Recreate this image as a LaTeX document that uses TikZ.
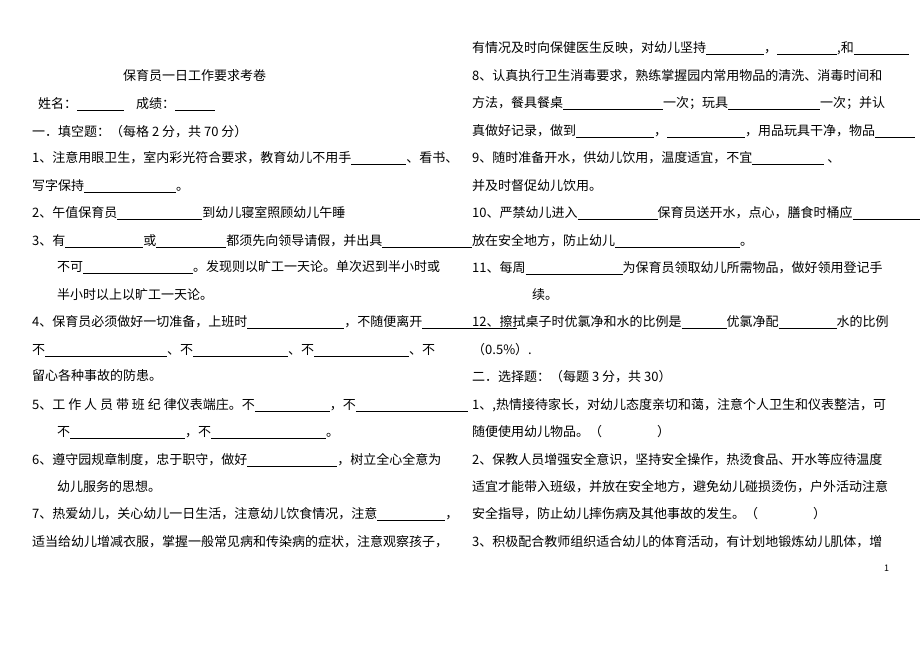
\documentclass[tikz,border=0pt]{standalone}
\usepackage{fontspec}
\setmainfont{Noto Sans CJK SC}
\newcommand{\blank}[1]{\rule[-2.5pt]{#1pt}{0.6pt}}
\tikzset{line/.style={anchor=base west, inner sep=0pt, font=\fontsize{13}{13}\selectfont}}

\begin{document}
\begin{tikzpicture}[x=1pt, y=-1pt]
    \useasboundingbox (0,0) rectangle (920,651);
    % left column
    \node[line] (title) at (123,80) {保育员一日工作要求考卷};
    \node[line] (name) at (38,108) {姓名：\blank{47}\hspace{12pt}成绩：\blank{40}};
    \node[line] (sec1) at (32,136) {一．填空题：（每格 2 分，共 70 分）};
    \node[line] (q1a) at (32,162) {1、注意用眼卫生，室内彩光符合要求，教育幼儿不用手\blank{55}、看书、};
    \node[line] (q1b) at (32,190) {写字保持\blank{92}。};
    \node[line] (q2) at (32,217) {2、午值保育员\blank{85}到幼儿寝室照顾幼儿午睡};
    \node[line] (q3a) at (32,245) {3、有\blank{78}或\blank{70}都须先向领导请假，并出具\blank{90}};
    \node[line] (q3b) at (57,271) {不可\blank{110}。发现则以旷工一天论。单次迟到半小时或};
    \node[line] (q3c) at (57,299) {半小时以上以旷工一天论。};
    \node[line] (q4a) at (32,326) {4、保育员必须做好一切准备，上班时\blank{97}，不随便离开\blank{95}};
    \node[line] (q4b) at (32,354) {不\blank{122}、不\blank{95}、不\blank{95}、不};
    \node[line] (q4c) at (32,380) {留心各种事故的防患。};
    \node[line] (q5a) at (32,409) {5、工 作 人 员 带 班 纪 律仪表端庄。不\blank{75}，不\blank{112}};
    \node[line] (q5b) at (57,436) {不\blank{115}，不\blank{115}。};
    \node[line] (q6a) at (32,464) {6、遵守园规章制度，忠于职守，做好\blank{90}，树立全心全意为};
    \node[line] (q6b) at (57,491) {幼儿服务的思想。};
    \node[line] (q7a) at (32,518) {7、热爱幼儿，关心幼儿一日生活，注意幼儿饮食情况，注意\blank{68}，};
    \node[line] (q7b) at (32,546) {适当给幼儿增减衣服，掌握一般常见病和传染病的症状，注意观察孩子，};
    % right column
    \node[line] (q7c) at (472,52) {有情况及时向保健医生反映，对幼儿坚持\blank{58}，\blank{60},和\blank{55}};
    \node[line] (q8a) at (472,80) {8、认真执行卫生消毒要求，熟练掌握园内常用物品的清洗、消毒时间和};
    \node[line] (q8b) at (472,107) {方法，餐具餐桌\blank{100}一次；玩具\blank{92}一次；并认};
    \node[line] (q8c) at (472,135) {真做好记录，做到\blank{78}，\blank{78}，用品玩具干净，物品\blank{40}};
    \node[line] (q9a) at (472,162) {9、随时准备开水，供幼儿饮用，温度适宜，不宜\blank{72} 、};
    \node[line] (q9b) at (472,190) {并及时督促幼儿饮用。};
    \node[line] (q10a) at (472,217) {10、严禁幼儿进入\blank{80}保育员送开水，点心，膳食时桶应\blank{75}};
    \node[line] (q10b) at (462,245) {\blank{10}放在安全地方，防止幼儿\blank{125}。};
    \node[line] (q11a) at (472,272) {11、每周\blank{97}为保育员领取幼儿所需物品，做好领用登记手};
    \node[line] (q11b) at (532,299) {续。};
    \node[line] (q12a) at (472,326) {12、擦拭桌子时优氯净和水的比例是\blank{45}优氯净配\blank{58}水的比例};
    \node[line] (q12b) at (472,354) {（0.5\%）.};
    \node[line] (sec2) at (472,381) {二．选择题：（每题 3 分，共 30）};
    \node[line] (c1a) at (472,409) {1、,热情接待家长，对幼儿态度亲切和蔼，注意个人卫生和仪表整洁，可};
    \node[line] (c1b) at (472,436) {随便使用幼儿物品。（\hspace{55pt}）};
    \node[line] (c2a) at (472,464) {2、保教人员增强安全意识，坚持安全操作，热烫食品、开水等应待温度};
    \node[line] (c2b) at (472,491) {适宜才能带入班级，并放在安全地方，避免幼儿碰损烫伤，户外活动注意};
    \node[line] (c2c) at (472,518) {安全指导，防止幼儿摔伤病及其他事故的发生。（\hspace{55pt}）};
    \node[line] (c3a) at (472,546) {3、积极配合教师组织适合幼儿的体育活动，有计划地锻炼幼儿肌体，增};
    \node[line, font=\fontsize{9}{9}\selectfont] (page) at (884,571) {1};
\end{tikzpicture}
\end{document}
